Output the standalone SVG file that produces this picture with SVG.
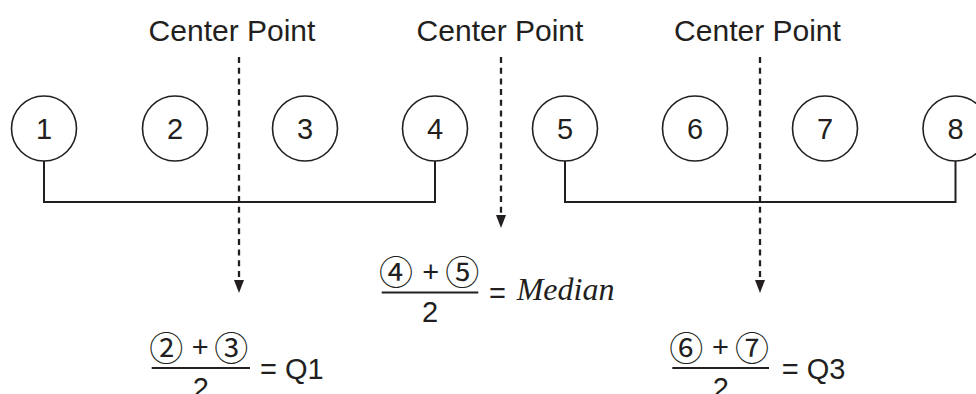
<svg xmlns="http://www.w3.org/2000/svg" width="976" height="394" viewBox="0 0 976 394">
<style>
  .node circle { fill: #fff; stroke: #231f20; stroke-width: 1.6; }
  .num { font-family: "Liberation Sans", Arial, sans-serif; font-size: 29px; fill: #231f20; text-anchor: middle; }
  .label { font-family: "Liberation Sans", Arial, sans-serif; font-size: 30px; fill: #231f20; text-anchor: middle; }
  .f { font-family: "Liberation Sans", "Noto Sans CJK JP", sans-serif; font-size: 29px; fill: #231f20; }
  .c { font-family: "Noto Sans CJK JP", "Liberation Sans", sans-serif; font-size: 34px; fill: #231f20; text-anchor: middle; }
  .it { font-family: "Liberation Serif", "Times New Roman", serif; font-style: italic; font-size: 32px; fill: #231f20; }
  .bracket { fill: none; stroke: #231f20; stroke-width: 2; }
  .dash { fill: none; stroke: #231f20; stroke-width: 2.3; stroke-dasharray: 6 4.7; }
  .bar { stroke: #231f20; stroke-width: 2; }
  .head { fill: #231f20; }
</style>
<rect width="976" height="394" fill="#fff"/>

<g id="labels">
  <text class="label" x="232" y="41">Center Point</text>
  <text class="label" x="500" y="41">Center Point</text>
  <text class="label" x="757.5" y="41">Center Point</text>
</g>

<g id="connectors">
  <path class="bracket" d="M44 161 V202 H435 V161"/>
  <path class="bracket" d="M565 161 V202 H955.5 V161"/>
  <line class="dash" x1="239" y1="57" x2="239" y2="279"/>
  <path class="head" d="M234 280 L244 280 L239 293 Z"/>
  <line class="dash" x1="501" y1="57" x2="501" y2="214"/>
  <path class="head" d="M496 215 L506 215 L501 228 Z"/>
  <line class="dash" x1="760" y1="57" x2="760" y2="279"/>
  <path class="head" d="M755 280 L765 280 L760 293 Z"/>
</g>

<g id="node1" class="node"><circle cx="44" cy="128.5" r="32.5"/><text class="num" x="44" y="139">1</text></g>
<g id="node2" class="node"><circle cx="175" cy="128.5" r="32.5"/><text class="num" x="175" y="139">2</text></g>
<g id="node3" class="node"><circle cx="305" cy="128.5" r="32.5"/><text class="num" x="305" y="139">3</text></g>
<g id="node4" class="node"><circle cx="435" cy="128.5" r="32.5"/><text class="num" x="435" y="139">4</text></g>
<g id="node5" class="node"><circle cx="565" cy="128.5" r="32.5"/><text class="num" x="565" y="139">5</text></g>
<g id="node6" class="node"><circle cx="695" cy="128.5" r="32.5"/><text class="num" x="695" y="139">6</text></g>
<g id="node7" class="node"><circle cx="825" cy="128.5" r="32.5"/><text class="num" x="825" y="139">7</text></g>
<g id="node8" class="node"><circle cx="955.5" cy="128.5" r="32.5"/><text class="num" x="955.5" y="139">8</text></g>

<g id="q1">
  <text class="c" x="166.3" y="360.5">②</text>
  <text class="f" x="200.3" y="357" text-anchor="middle">+</text>
  <text class="c" x="231.3" y="360.5">③</text>
  <line class="bar" x1="151.7" y1="368" x2="250" y2="368"/>
  <text class="f" x="200.8" y="398" text-anchor="middle">2</text>
  <text class="f" x="260" y="379">= Q1</text>
</g>

<g id="median">
  <text class="c" x="396" y="285">④</text>
  <text class="f" x="430.8" y="282" text-anchor="middle">+</text>
  <text class="c" x="462.3" y="285">⑤</text>
  <line class="bar" x1="381.7" y1="292.5" x2="478.3" y2="292.5"/>
  <text class="f" x="430" y="322" text-anchor="middle">2</text>
  <text class="f" x="489" y="303">=</text>
  <text class="it" x="516.7" y="300">Median</text>
</g>

<g id="q3">
  <text class="c" x="686.3" y="360.5">⑥</text>
  <text class="f" x="720.5" y="357" text-anchor="middle">+</text>
  <text class="c" x="752" y="360.5">⑦</text>
  <line class="bar" x1="672.3" y1="368" x2="769" y2="368"/>
  <text class="f" x="720.7" y="398" text-anchor="middle">2</text>
  <text class="f" x="781.7" y="379">= Q3</text>
</g>
</svg>
